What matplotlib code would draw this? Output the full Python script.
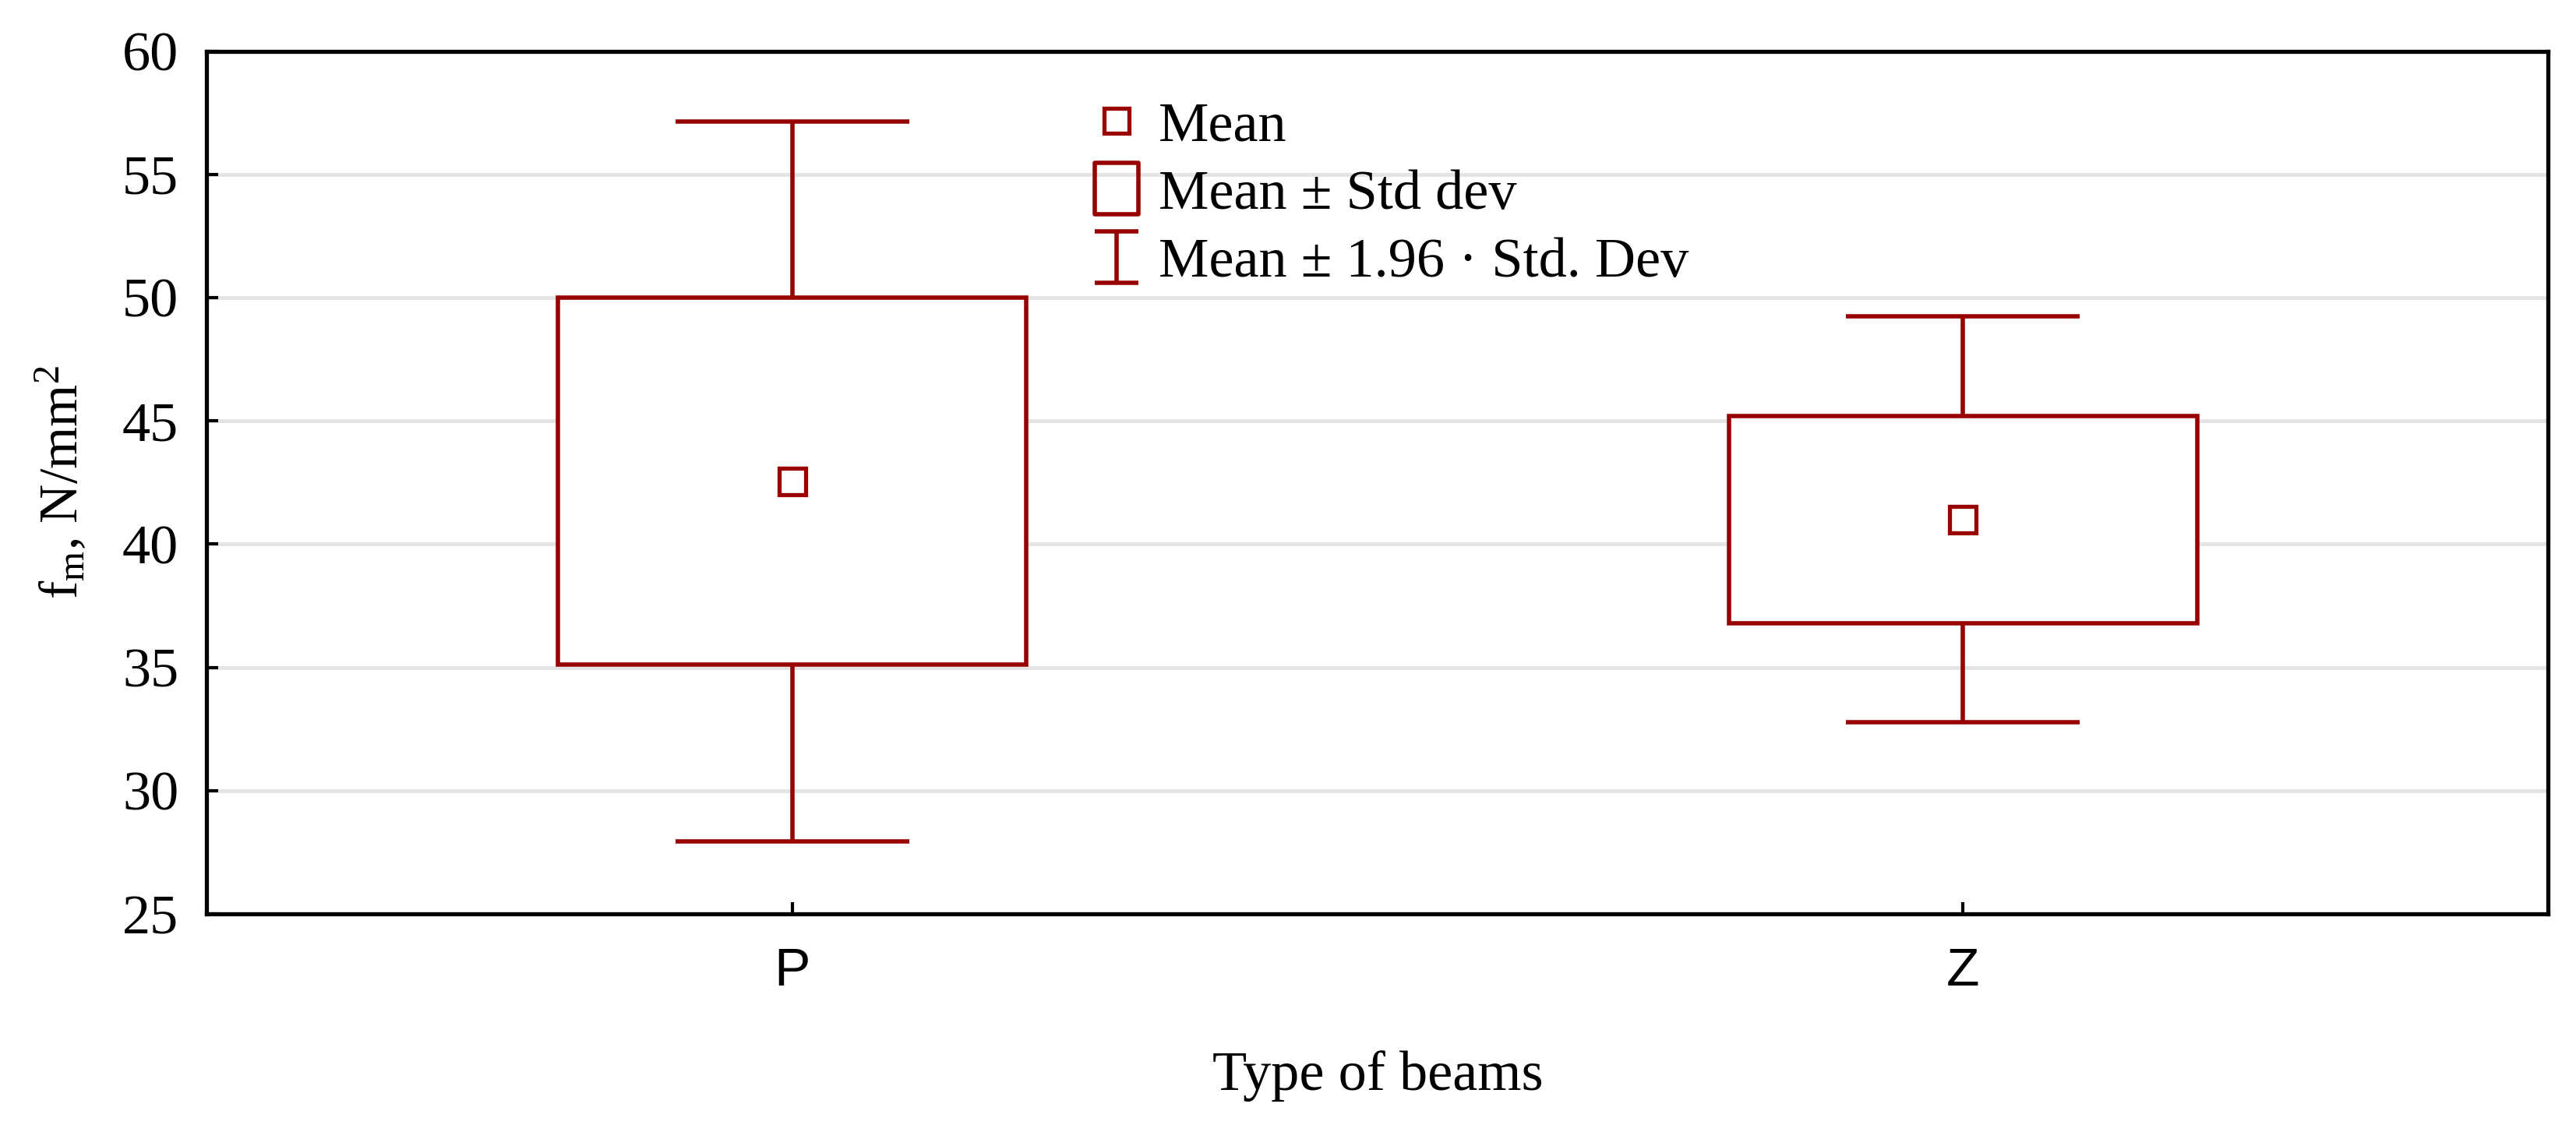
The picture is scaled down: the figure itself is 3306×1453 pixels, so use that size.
import numpy as np
import matplotlib
matplotlib.use("Agg")
import matplotlib.pyplot as plt
from matplotlib.lines import Line2D
from matplotlib.path import Path

plt.rcParams['font.family'] = ['Liberation Serif', 'DejaVu Serif']
plt.rcParams['mathtext.fontset'] = 'custom'
plt.rcParams['mathtext.rm'] = 'Liberation Serif'
plt.rcParams['mathtext.it'] = 'Liberation Serif'

# data
beams = ['P', 'Z']
means = [42.55, 41.0]
std_devs = [7.45, 4.2]
y_ticks = [25, 30, 35, 40, 45, 50, 55, 60]

red = '#990000'
means = np.array(means)
std_devs = np.array(std_devs)
x = np.arange(len(beams))

fig = plt.figure(figsize=(16.53, 7.265), dpi=200)
ax = fig.add_axes([0.0803, 0.1927, 0.9089, 0.7622])

# whiskers: mean +/- 1.96 sd
ax.errorbar(x, means, yerr=1.96 * std_devs, fmt='none', ecolor=red,
            elinewidth=2.0, capsize=54, capthick=2.0, zorder=2)
# boxes: mean +/- sd
ax.bar(x, 2 * std_devs, width=0.4, bottom=means - std_devs, color='white',
       edgecolor=red, linewidth=2.0, zorder=3)
# mean markers
ax.plot(x, means, ls='none', marker='s', ms=12, mfc='white', mec=red,
        mew=1.9, zorder=4)

ax.set_xlim(-0.5, 1.5)
ax.set_ylim(25, 60)
ax.set_yticks(y_ticks)
ax.set_xticks(x)
ax.set_xticklabels(beams, family=['Liberation Sans Narrow', 'Liberation Sans'],
                   fontsize=25)
ax.tick_params(axis='y', direction='in', length=5.4, width=1.5, labelsize=26, pad=13)
ax.tick_params(axis='x', direction='in', length=5.4, width=1.5, pad=15)
ax.grid(axis='y', color='#e4e4e4', linewidth=1.8, zorder=0)
ax.set_axisbelow(True)

for side in ['left', 'bottom', 'top', 'right']:
    ax.spines[side].set_linewidth(1.9)

ax.set_xlabel('Type of beams', fontsize=26, labelpad=25)
ax.set_ylabel(r'f$_\mathregular{m}$, N/mm$^\mathregular{2}$', fontsize=25, labelpad=15)

# legend handles
box_path = Path([(-0.417, -0.5), (0.417, -0.5), (0.417, 0.5), (-0.417, 0.5), (-0.417, -0.5)],
                [Path.MOVETO, Path.LINETO, Path.LINETO, Path.LINETO, Path.CLOSEPOLY])
bar_path = Path([(-0.417, 0.5), (0.417, 0.5), (0, 0.5), (0, -0.5), (-0.417, -0.5), (0.417, -0.5)],
                [Path.MOVETO, Path.LINETO, Path.MOVETO, Path.LINETO, Path.MOVETO, Path.LINETO])
handles = [
    Line2D([], [], ls='none', marker='s', ms=11.5, mfc='white', mec=red, mew=1.9),
    Line2D([], [], ls='none', marker=box_path, ms=24, mfc='none', mec=red, mew=2.0),
    Line2D([], [], ls='none', marker=bar_path, ms=24, mfc='none', mec=red, mew=2.0),
]
labels = ['Mean', 'Mean ± Std dev', 'Mean ± 1.96 · Std. Dev']
ax.legend(handles, labels, loc='upper left', bbox_to_anchor=(0.3789, 0.9418),
          frameon=False, fontsize=26, borderpad=0, borderaxespad=0,
          handlelength=0.8, handletextpad=0.35, labelspacing=0.3)

fig.savefig('out.png', dpi=200)
